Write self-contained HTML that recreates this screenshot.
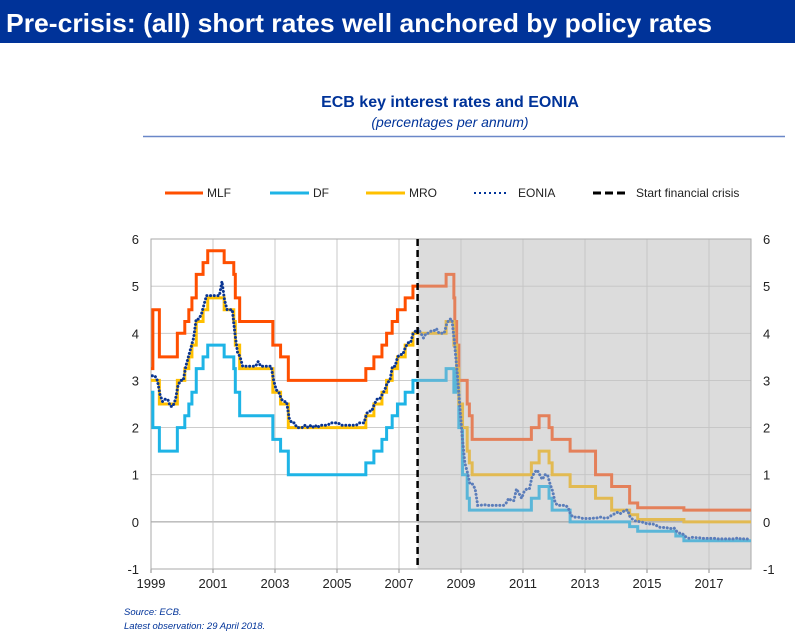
<!DOCTYPE html>
<html><head><meta charset="utf-8"><style>
body{margin:0;background:#fff;}
svg{display:block;font-family:"Liberation Sans",sans-serif;}
</style></head><body>
<svg id="c" width="795" height="643" viewBox="0 0 795 643">
<rect x="0" y="0" width="795" height="43" fill="#003399"/>
<text x="6" y="32" fill="#fff" font-size="26" font-weight="bold" textLength="706" lengthAdjust="spacingAndGlyphs">Pre-crisis: (all) short rates well anchored by policy rates</text>
<text x="450" y="107" fill="#003399" font-size="16" font-weight="bold" text-anchor="middle">ECB key interest rates and EONIA</text>
<text x="450" y="127" fill="#003399" font-size="14" font-style="italic" text-anchor="middle">(percentages per annum)</text>
<line x1="143" y1="136.5" x2="785" y2="136.5" stroke="#6a87c8" stroke-width="1.5"/>
<g font-size="12" fill="#222">
<g><line x1="165" y1="193" x2="203" y2="193" stroke="#FF4F00" stroke-width="3"/><text x="207" y="197">MLF</text></g>
<g><line x1="270" y1="193" x2="309" y2="193" stroke="#1EB4E6" stroke-width="3"/><text x="313" y="197">DF</text></g>
<g><line x1="366" y1="193" x2="405" y2="193" stroke="#FFC000" stroke-width="3"/><text x="409" y="197">MRO</text></g>
<g><line x1="474" y1="193" x2="509" y2="193" stroke="#003399" stroke-width="2" stroke-dasharray="2 3"/><text x="518" y="197">EONIA</text></g>
<g><line x1="593" y1="193" x2="627" y2="193" stroke="#000" stroke-width="3" stroke-dasharray="8 4"/><text x="636" y="197">Start financial crisis</text></g>
</g>
<g id="plot"></g>
<text x="124" y="615" fill="#003399" font-size="9.5" font-style="italic">Source: ECB.</text>
<text x="124" y="629" fill="#003399" font-size="9.5" font-style="italic">Latest observation: 29 April 2018.</text>
</svg>
<script>
const yTicks=[-1,0,1,2,3,4,5,6];
const xTicks=[1999,2001,2003,2005,2007,2009,2011,2013,2015,2017];
const crisisDate=2007.6;
const mloDates=[1999.0,1999.27,1999.85,2000.09,2000.22,2000.32,2000.46,2000.68,2000.83,2001.36,2001.67,2001.72,2001.86,2002.93,2003.18,2003.43,2005.93,2006.19,2006.45,2006.6,2006.78,2006.95,2007.2,2007.45,2008.52,2008.77,2008.86,2008.93,2009.05,2009.2,2009.27,2009.36,2011.27,2011.52,2011.84,2011.94,2012.52,2013.34,2013.86,2014.44,2014.7,2016.19];
const mroValues=[3.0,2.5,3.0,3.25,3.5,3.75,4.25,4.5,4.75,4.5,4.25,3.75,3.25,2.75,2.5,2.0,2.25,2.5,2.75,3.0,3.25,3.5,3.75,4.0,4.25,3.75,3.25,2.5,2.0,1.5,1.25,1.0,1.25,1.5,1.25,1.0,0.75,0.5,0.25,0.15,0.05,0.0];
const mlfDates=[1999.0,1999.06,1999.27,1999.85,2000.09,2000.22,2000.32,2000.46,2000.68,2000.83,2001.36,2001.67,2001.72,2001.86,2002.93,2003.18,2003.43,2005.93,2006.19,2006.45,2006.6,2006.78,2006.95,2007.2,2007.45,2008.52,2008.77,2008.8,2008.86,2008.93,2009.05,2009.2,2009.27,2009.36,2011.27,2011.52,2011.84,2011.94,2012.52,2013.34,2013.86,2014.44,2014.7,2016.19];
const mlfValues=[3.25,4.5,3.5,4.0,4.25,4.5,4.75,5.25,5.5,5.75,5.5,5.25,4.75,4.25,3.75,3.5,3.0,3.25,3.5,3.75,4.0,4.25,4.5,4.75,5.0,5.25,4.75,4.25,3.75,3.0,3.0,2.5,2.25,1.75,2.0,2.25,2.0,1.75,1.5,1.0,0.75,0.4,0.3,0.25];
const dfDates=[1999.0,1999.06,1999.27,1999.85,2000.09,2000.22,2000.32,2000.46,2000.68,2000.83,2001.36,2001.67,2001.72,2001.86,2002.93,2003.18,2003.43,2005.93,2006.19,2006.45,2006.6,2006.78,2006.95,2007.2,2007.45,2008.52,2008.77,2008.8,2008.86,2008.93,2009.05,2009.2,2009.27,2009.36,2011.27,2011.52,2011.84,2011.94,2012.52,2014.44,2014.7,2015.93,2016.19];
const dfValues=[2.75,2.0,1.5,2.0,2.25,2.5,2.75,3.25,3.5,3.75,3.5,3.25,2.75,2.25,1.75,1.5,1.0,1.25,1.5,1.75,2.0,2.25,2.5,2.75,3.0,3.25,2.75,3.25,2.75,2.0,1.0,0.5,0.25,0.25,0.5,0.75,0.5,0.25,0.0,-0.1,-0.2,-0.3,-0.4];
const eoniaStart=1999.0;
const eoniaMonthly=[3.1,3.1,3.0,2.7,2.55,2.6,2.6,2.45,2.45,2.6,2.9,3.0,
3.0,3.3,3.5,3.7,3.9,4.3,4.3,4.4,4.6,4.8,4.8,4.8,
4.8,4.8,4.8,5.1,4.7,4.5,4.5,4.5,4.0,3.6,3.5,3.3,
3.3,3.3,3.3,3.3,3.3,3.4,3.3,3.3,3.3,3.3,3.3,3.0,
2.8,2.75,2.6,2.55,2.55,2.2,2.1,2.1,2.0,2.0,2.0,2.05,
2.0,2.05,2.0,2.05,2.0,2.05,2.05,2.05,2.05,2.1,2.1,2.1,
2.1,2.05,2.05,2.05,2.05,2.05,2.05,2.05,2.1,2.1,2.1,2.3,
2.35,2.35,2.5,2.6,2.6,2.7,2.8,2.95,3.0,3.3,3.3,3.5,
3.55,3.55,3.7,3.8,3.8,4.0,4.05,4.1,4.0,3.9,4.0,4.0,
4.05,4.05,4.1,4.0,4.0,4.0,4.2,4.3,4.3,3.8,3.2,2.5,
1.8,1.25,1.05,0.8,0.8,0.7,0.35,0.35,0.36,0.36,0.35,0.35,
0.35,0.35,0.35,0.35,0.35,0.4,0.5,0.45,0.45,0.7,0.6,0.5,
0.65,0.7,0.7,0.95,1.05,1.1,1.0,0.9,1.0,1.0,0.8,0.65,
0.4,0.35,0.35,0.35,0.35,0.3,0.15,0.1,0.1,0.1,0.08,0.07,
0.07,0.07,0.07,0.08,0.08,0.1,0.1,0.08,0.08,0.1,0.15,0.17,
0.2,0.17,0.2,0.25,0.25,0.1,0.05,0.02,0.01,0.0,-0.01,-0.03,
-0.05,-0.04,-0.05,-0.07,-0.11,-0.12,-0.12,-0.12,-0.14,-0.14,-0.13,-0.2,
-0.24,-0.24,-0.29,-0.34,-0.35,-0.33,-0.33,-0.34,-0.34,-0.35,-0.35,-0.35,
-0.35,-0.35,-0.35,-0.36,-0.36,-0.36,-0.36,-0.36,-0.36,-0.36,-0.35,-0.34,
-0.37,-0.36,-0.36,-0.37];

const NS="http://www.w3.org/2000/svg";
const L=151,R=751,T=239,B=569,X0=1999,X1=2018.355;
function xs(v){return L+(v-X0)/(X1-X0)*(R-L);}
function ys(v){return T+(6-v)/7*(B-T);}
const g=document.getElementById('plot');
function mk(tag,attrs,parent){const e=document.createElementNS(NS,tag);for(const k in attrs)e.setAttribute(k,attrs[k]);(parent||g).appendChild(e);return e;}

const defs=mk('defs',{});
const cp1=mk('clipPath',{id:'pre'},defs);mk('rect',{x:L,y:T-10,width:xs(crisisDate)-L,height:B-T+20},cp1);
const cp2=mk('clipPath',{id:'post'},defs);mk('rect',{x:xs(crisisDate),y:T-10,width:R-xs(crisisDate)+5,height:B-T+20},cp2);

const shade=mk('rect',{x:xs(crisisDate),y:T,width:R-xs(crisisDate),height:B-T,fill:'#dcdcdc'});



for(const v of yTicks){
  const ln=mk('line',{x1:L,x2:R,y1:ys(v),y2:ys(v),stroke:v===0?'#999':'#c4c4c4','stroke-width':v===0?1:0.9});
  
  
  const tl=mk('text',{x:L-12,y:ys(v)+5,'text-anchor':'end','font-size':13,fill:'#222'});tl.textContent=v;
  
  
  const tr=mk('text',{x:R+12,y:ys(v)+5,'text-anchor':'start','font-size':13,fill:'#222'});tr.textContent=v;
  
  
}
for(const v of xTicks){
  const ln=mk('line',{x1:xs(v),x2:xs(v),y1:T,y2:B,stroke:'#c4c4c4','stroke-width':0.9});
  
  
  const tk=mk('line',{x1:xs(v),x2:xs(v),y1:B,y2:B+4,stroke:'#888'});
  
  
  const t=mk('text',{x:xs(v),y:B+19,'text-anchor':'middle','font-size':13,fill:'#222'});t.textContent=v;
  
  
}
const frame=mk('rect',{x:L,y:T,width:R-L,height:B-T,fill:'none',stroke:'#aaa','stroke-width':1});



function stepPath(dates,vals){
  let d='';
  for(let i=0;i<dates.length;i++){
    const x=xs(dates[i]),y=ys(vals[i]);
    if(i===0)d+='M'+x+','+y;else d+='H'+x+'V'+y;
  }
  return d+'H'+R;
}
function eoniaPath(){
  let d='';
  for(let i=0;i<eoniaMonthly.length;i++){
    const x=xs(eoniaStart+i/12+0.04),y=ys(eoniaMonthly[i]);
    d+=(i?'L':'M')+x+','+y;
  }
  return d;
}
const series=[
 {name:'mlf-line',d:stepPath(mlfDates,mlfValues),pre:'#FF4F00',post:'#E4805A',w:3},
 {name:'df-line',d:stepPath(dfDates,dfValues),pre:'#1EB4E6',post:'#5BB6D8',w:3},
 {name:'mro-line',d:stepPath(mloDates,mroValues),pre:'#FFC000',post:'#E2BA52',w:3},
 {name:'eonia-line',d:eoniaPath(),pre:'#0A3592',post:'#5B7DBA',w:3,dash:'0.1 3.6'}
];
for(const s of series){
  for(const part of ['pre','post']){
    const p=mk('path',{d:s.d,fill:'none',stroke:s[part],'stroke-width':s.w,'clip-path':'url(#'+part+')','stroke-linecap':s.dash?'round':'butt'});
    if(s.dash)p.setAttribute('stroke-dasharray',s.dash);
    
    
  }
}
const cl=mk('line',{x1:xs(crisisDate),x2:xs(crisisDate),y1:T,y2:B,stroke:'#000','stroke-width':2.5,'stroke-dasharray':'7 4'});


</script>
</body></html>
